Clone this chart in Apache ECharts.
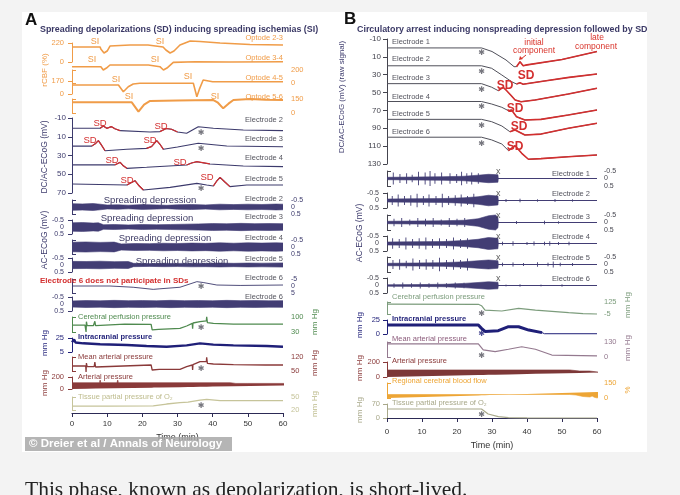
<!DOCTYPE html>
<html><head><meta charset="utf-8">
<script src="https://cdn.jsdelivr.net/npm/echarts@6/dist/echarts.min.js"></script>
<style>html,body{margin:0;padding:0;background:#f3f3f3;}#c{width:680px;height:495px;}</style>
</head><body><div id="c"></div>
<script>
// ---------------- DATA (time in min, values in axis units) ----------------
const timeTicks = [0, 10, 20, 30, 40, 50, 60];
// Panel A - rCBF (%)
const optode23 = [[0,174],[8,174],[8.2,150],[9.1,104],[10,127],[10.8,185],[16.5,197],[21.6,197],[21.8,174],[25.9,174],[26.7,139],[27.9,104],[29,127],[30.7,197],[33.6,243],[36.4,237],[42.1,220],[50.6,203],[60,197]];
const optode34 = [[0,251],[8.2,251],[8.9,200],[9.8,230],[10.8,277],[21.7,277],[21.9,251],[25,251],[26,200],[27,230],[28.8,318],[35,328],[45,323],[60,328]];
const optode45 = [[0,118],[13.2,118],[14.6,30],[16,95],[17.4,130],[19.3,140],[34.5,140],[35.5,-35],[36.2,60],[37.3,183],[40,161],[60,161]];
const optode56 = [[0,114],[17,114],[18.9,14],[20.5,90],[22.2,129],[30,134],[40.2,139],[41.5,110],[43,50],[44.5,100],[45.9,139],[50.6,150],[55,142],[60,139]];
// Panel A - DC/AC-ECoG (mV)
const dcA2 = [[0,1],[8,1],[8.9,-1.5],[9.9,1],[11.2,-0.8],[12.2,1.5],[13.7,3.5],[22.2,5],[25,4.5],[26.8,1.2],[28.3,2],[30,5],[32.6,6.3],[35.9,-0.7],[40.2,1],[48.7,2.8],[60,3.5]];
const dcA3 = [[0,20],[5.6,20],[6.6,17.5],[7.5,14.2],[8.4,19],[9.4,24.9],[15.6,23.4],[21.2,22.4],[22.6,20.5],[24.1,14.2],[25,18],[26,23.4],[30,21],[35.9,17],[44,19.9],[60,20.6]];
const dcA4 = [[0,40],[12.2,40],[13,38.5],[13.7,37.3],[14.6,41],[15.6,43.7],[21.2,42.6],[32.6,40.1],[34,38],[35.5,36.6],[39.2,39],[48.7,41.2],[60,41.9]];
const dcA5 = [[0,60.4],[15.6,61.5],[16.8,59],[17.9,56.9],[19,62],[20.3,66.8],[27.9,64],[35.5,59.7],[38.3,61.5],[40.2,62.5],[41.2,57],[42.1,53.3],[43.4,58],[44.9,63.2],[49.7,61.5],[60,61.5]];
const sdWinA2 = [[8,13.7],[25,30]];
const sdWinA3 = [[5.6,9.4],[21.2,26]];
const sdWinA4 = [[12.2,15.6],[32.6,39.2]];
const sdWinA5 = [[15.6,20.3],[40.2,44.9]];
const starsDcA = [[36.7,6.3],[36.7,23],[36.7,65.7]];
// Panel A - AC-ECoG half amplitude (mV)
const acA2 = [[0,0.24],[3,0.22],[6,0.25],[8,0.2],[10,0.14],[13,0.16],[16,0.13],[20,0.17],[24,0.15],[27,0.12],[30,0.16],[34,0.18],[38,0.15],[42,0.2],[46,0.17],[50,0.2],[54,0.18],[58,0.21],[60,0.2]];
const acA3 = [[0,0.3],[3,0.32],[6,0.28],[7.5,0.3],[9,0.16],[12,0.18],[16,0.15],[20,0.18],[24,0.16],[28,0.18],[32,0.2],[36,0.22],[40,0.25],[44,0.23],[48,0.26],[52,0.24],[56,0.25],[60,0.24]];
const acA4 = [[0,0.34],[4,0.36],[8,0.33],[12,0.35],[14,0.22],[18,0.25],[22,0.24],[26,0.27],[30,0.25],[34,0.28],[38,0.26],[42,0.3],[46,0.27],[50,0.3],[54,0.28],[58,0.3],[60,0.29]];
const acA5 = [[0,0.26],[4,0.25],[8,0.27],[12,0.24],[16,0.25],[17.5,0.12],[22,0.1],[26,0.12],[30,0.11],[34,0.13],[38,0.12],[42,0.14],[46,0.12],[50,0.14],[54,0.13],[60,0.15]];
const acA6 = [[0,0.22],[4,0.25],[8,0.23],[12,0.26],[16,0.24],[20,0.25],[24,0.23],[28,0.26],[32,0.24],[36,0.25],[40,0.23],[44,0.26],[48,0.24],[52,0.25],[56,0.23],[60,0.24]];
const dcA6 = [[0,0],[10.8,0],[17.4,0.9],[23.1,2.4],[25,2],[30.7,0.9],[35.5,-3.1],[37.3,-2.5],[41.2,-0.7],[47.8,-0.4],[60,-0.7]];
const starDcA6 = [[36.7,0.7]];
// Panel A - pressures (mm Hg)
const cppA = [[0,62],[3.7,62],[3.9,62],[4.0,30],[4.1,78],[4.3,60],[6.1,60],[6.3,55],[6.5,80],[6.7,60],[7,67],[15,67],[22.5,66],[22.8,40],[23.3,45],[24.6,42],[24.8,48],[30.7,47],[32.6,58],[34.2,70],[34.3,45],[34.4,72],[36.4,78],[38.2,82],[38.3,101],[38.5,74],[40.2,70],[45.9,67],[46,64],[46.1,67],[60,67]];
const icpA = [[0,19],[0.6,23],[1,18.5],[3.2,17.4],[8,16],[15.6,15],[21.2,13.6],[26.9,12.6],[32.6,14.5],[36.4,17.4],[40.2,15.5],[45.9,14.5],[55.4,13.6],[60,12.6]];
const mapA = [[0,75],[3.9,75],[4.0,45],[4.1,90],[4.3,72],[6.3,72],[6.5,95],[6.7,70],[7,80],[22.5,80],[22.8,55],[23.3,58],[24.8,58],[30.7,58],[32.6,72],[34.2,80],[34.3,55],[34.4,82],[36.4,97],[38.2,97],[38.3,118],[38.5,88],[40.2,85],[45.9,82],[46,75],[46.1,82],[55,80],[55.1,74],[55.2,80],[60,80]];
const apA = [[0,28,133],[3.9,28,133],[4.0,0,150],[4.1,28,133],[6.4,28,133],[6.5,0,150],[6.6,28,133],[22.5,28,133],[22.7,5,120],[23.3,12,105],[24.6,12,105],[24.8,0,105],[25,12,105],[30.7,12,105],[33,18,130],[34.2,20,140],[34.3,0,140],[34.4,20,140],[36.4,22,155],[38.3,22,170],[40,22,162],[46,22,160],[60,22,158]];
const po2A = [[0,29],[10,29],[23.1,29.5],[26.9,33.8],[30.7,37],[33,38],[36.4,43],[38.3,44.6],[42.1,41.5],[50,41.5],[60,41.5]];
const starCppA = [[36.7,47]], starMapA = [[36.7,58.5]], starPo2A = [[36.7,29.2]];
// Panel B - DC (raw)
const dcB1 = [[0,0],[27,0],[30,4],[34,13.5],[36.3,21],[37,21],[38,15.4],[38.9,20],[40,19],[50,13],[60,4]];
const dcB2 = [[0,20],[27,20],[29.9,22.8],[32.8,30.3],[35.6,37.8],[37,40.4],[38,39],[38.9,40.6],[45,37],[52,33],[60,29.2]];
const dcB3 = [[0,40],[27,40],[29.9,44],[31.8,47.9],[33.2,44.1],[34.2,47.9],[35.4,53],[36.6,58.3],[38.3,60.2],[42.3,58.3],[51.8,51.6],[60,45.2]];
const dcB4 = [[0,60],[27,60],[29.9,62.8],[32.8,66.5],[34.7,70.3],[35.6,69.5],[37,77],[39.4,80.7],[44,80],[51.8,75.1],[60,69.5]];
const dcB5 = [[0,80],[27,80],[29.9,82.6],[32.8,87.4],[35.1,93.8],[36.6,91.9],[39.4,97.5],[44,96.5],[51.8,90],[60,84.4]];
const dcB6 = [[0,100],[27,100],[29.9,103],[32.8,107.6],[34.7,115],[36.6,109.5],[38.5,118],[40.4,124.7],[44,124],[51.8,121.8],[60,119.9]];
const sdStartB = [37, 37, 31.8, 34.7, 35.1, 34.7];
const starsDcB = [[27,5.7],[27,27],[27,47],[27,66],[27,87.4],[27,107.6]];
// Panel B - AC envelope half amplitude and spikes
const acB1 = [[0,0.08],[8,0.1],[16,0.12],[22,0.15],[26,0.22],[29,0.28],[31.7,0.25],[31.8,0],[60,0]];
const acB2 = [[0,0.1],[8,0.12],[16,0.13],[22,0.18],[26,0.25],[29,0.35],[31.7,0.3],[31.8,0],[60,0]];
const acB3 = [[0,0.08],[8,0.1],[16,0.12],[22,0.15],[26,0.25],[29,0.45],[31,0.5],[31.7,0.35],[31.8,0],[60,0]];
const acB4 = [[0,0.1],[8,0.12],[16,0.13],[22,0.2],[26,0.28],[29,0.4],[31.7,0.35],[31.8,0],[60,0]];
const acB5 = [[0,0.08],[8,0.1],[16,0.12],[22,0.18],[26,0.25],[29,0.3],[31.7,0.25],[31.8,0],[60,0]];
const acB6 = [[0,0.05],[8,0.06],[16,0.08],[22,0.14],[26,0.2],[29,0.25],[31.7,0.22],[31.8,0],[60,0]];
const spkB1 = [[1.8,0.4],[3.7,0.3],[5.6,0.35],[7.2,0.25],[9,0.45],[10.9,0.4],[12.3,0.5],[13.7,0.35],[15.6,0.4],[18,0.35],[19.9,0.3],[21.3,0.45],[22.8,0.35],[24.2,0.4],[26.1,0.35]];
const spkB2 = [[1.5,0.3],[3.2,0.4],[5,0.3],[6.8,0.35],[8.6,0.45],[10.4,0.3],[12,0.4],[14,0.3],[15.8,0.45],[17.6,0.3],[19.5,0.35],[21.2,0.4],[23,0.3],[24.8,0.45],[34,0.1],[38,0.12],[43,0.08],[48,0.1],[53,0.08]];
const spkB3 = [[2,0.25],[4.2,0.3],[6.5,0.2],[8.8,0.3],[11,0.25],[13.2,0.3],[15.5,0.2],[17.8,0.3],[20,0.25],[22.2,0.3],[37,0.1],[45,0.12],[49,0.08]];
const spkB4 = [[1.6,0.35],[3.5,0.3],[5.4,0.4],[7.3,0.3],[9.2,0.35],[11.1,0.4],[13,0.3],[15,0.35],[17,0.3],[19,0.4],[21,0.3],[23,0.35],[33,0.12],[36,0.15],[40,0.1],[42,0.14],[45,0.12],[46.5,0.15],[49,0.1],[52,0.12]];
const spkB5 = [[1.7,0.3],[3.6,0.35],[5.5,0.25],[7.4,0.4],[9.3,0.3],[11.2,0.35],[13.1,0.3],[15,0.45],[17,0.3],[19,0.35],[21,0.3],[23,0.4],[33,0.12],[36,0.14],[39,0.1],[43,0.15],[46,0.12],[47.5,0.2],[49.5,0.12],[53,0.1]];
const spkB6 = [[2,0.15],[4.5,0.2],[7,0.15],[9.5,0.2],[12,0.15],[14.5,0.2],[17,0.15],[19.5,0.2],[22,0.18],[34,0.06],[38,0.08],[44,0.06],[50,0.08]];
const xMarkB = [[31.8,-0.45]];
// Panel B - physiology
const cppB = [[0,103],[26.1,100],[27,85],[28,38],[32.8,27.5],[37.6,56.7],[42.4,38],[51.9,9],[56,0],[60,-5]];
const icpB = [[0,16],[26.1,16],[27,10],[28,4.5],[31.8,6],[34.7,13],[37.6,13],[40.5,7],[44.3,2.5],[45,0.5],[60,0.5]];
const icpBThickEnd = 44.3;
const mapB = [[0,113],[26.1,113],[27.5,61],[30.9,46],[34.7,67],[38.5,89],[42.4,67],[47.1,17],[60,9]];
const apB = [[0,53,147],[26.1,53,147],[27.5,30,110],[28.9,13,93],[30.9,13,71],[34.7,27,93],[37.6,27,93],[42.4,13,58],[47.1,6,27],[55,2,8],[60,0,2]];
const cbfB = [[0,90,125],[26.1,90,125],[27,80,110],[28,40,55],[29,15,25],[29.3,20,40],[29.6,0,8],[29.9,0,2],[60,0,1]];
const po2B = [[0,45],[27,45],[28.9,20],[31.8,6.7],[34.7,1.7],[40,0.5],[60,0]];
const starCppB = [[27,-5]], starIcpB = [[27,0]], starMapB = [[27,8.7]], starPo2B = [[27,15]];

// ---------------- BUILD ----------------
const FONT = '"Liberation Sans", Arial, sans-serif';
const C = {navy:'#3c3a6c', red:'#d32f2f', orange:'#f09c48', gray:'#55555f', green:'#4f8a4f', icp:'#1f1f78',
  maroon:'#8a3a3a', olive:'#c6c49a', greenB:'#7c9c7c', mauve:'#94798f', oliveB:'#a8a88a', orangeB:'#eda535', dcB:'#50505a', ac:'#423d74'};
const XA = {left:72, width:211}, XB = {left:387, width:210};
const grids = [], xAxes = [], yAxes = [], series = [];

function panel(p) {
  const i = grids.length, X = p.x === 'A' ? XA : XB;
  grids.push({left:X.left, width:X.width, top:p.top, height:p.height});
  xAxes.push({gridIndex:i, type:'value', min:0, max:60, show:false});
  yAxes.push({gridIndex:i, type:'value', min:p.min, max:p.max, inverse:!!p.inverse,
    position:p.side, offset:p.offset || 0,
    axisLine:{show:true, lineStyle:{color:p.color, width:1}},
    axisTick:{show:true, length:4, customValues:p.ticks, lineStyle:{color:p.color, width:1}},
    axisLabel:{show:true, customValues:p.labels || p.ticks, fontSize:p.fs || 7.5, color:p.color, margin:6, fontFamily:FONT},
    splitLine:{show:false}});
  return i;
}
function line(i, data, color, width) {
  series.push({type:'line', xAxisIndex:i, yAxisIndex:i, data, symbol:'none', showSymbol:false,
    lineStyle:{color, width}, clip:false, silent:true, z:3});
}
// band between lo and hi (all positive values): stacked areas
function band(i, env, color) {
  const stack = 'st' + series.length;
  series.push({type:'line', xAxisIndex:i, yAxisIndex:i, stack, data:env.map(d => [d[0], d[1]]),
    symbol:'none', lineStyle:{width:0, opacity:0}, clip:false, silent:true, z:2});
  series.push({type:'line', xAxisIndex:i, yAxisIndex:i, stack, data:env.map(d => [d[0], d[2] - d[1]]),
    symbol:'none', lineStyle:{width:0.6, color}, areaStyle:{color, opacity:1}, clip:false, silent:true, z:2});
}
// symmetric band +-amp around zero: two areas filled to origin 0
function symBand(i, amp, color) {
  [1, -1].forEach(s => {
    series.push({type:'line', xAxisIndex:i, yAxisIndex:i, data:amp.map(d => [d[0], s * d[1]]),
      symbol:'none', lineStyle:{width:0.6, color}, areaStyle:{color, opacity:1, origin:0}, clip:false, silent:true, z:2});
  });
}
function spikes(i, sp, color) {
  const d = [];
  sp.forEach(s => { d.push([s[0], -s[1]], [s[0], s[1]], [s[0], '-']); });
  series.push({type:'line', xAxisIndex:i, yAxisIndex:i, data:d, symbol:'none', connectNulls:false,
    lineStyle:{color, width:0.9}, clip:false, silent:true, z:3});
}
function marks(i, pts, text, color, size, font) {
  series.push({type:'scatter', xAxisIndex:i, yAxisIndex:i, data:pts, symbolSize:1,
    itemStyle:{color:'rgba(0,0,0,0)'}, clip:false, silent:true, z:5,
    label:{show:true, formatter:text, position:'inside', color, fontSize:size, fontFamily:font || FONT}});
}
function win(data, w) { return data.filter(d => d[0] >= w[0] && d[0] <= w[1]); }
const STAR = '\u2731';
const SF = '"DejaVu Sans", sans-serif';

// ---- Panel A ----
let g;
g = panel({x:'A', top:43, height:19, min:0, max:220, side:'left', offset:2, ticks:[0,220], color:C.orange});
line(g, optode23, C.orange, 1.6);
g = panel({x:'A', top:70, height:13, min:0, max:200, side:'right', offset:2, ticks:[0,200], color:C.orange});
line(g, optode34, C.orange, 1.6);
g = panel({x:'A', top:81, height:13, min:0, max:170, side:'left', offset:2, ticks:[0,170], color:C.orange});
line(g, optode45, C.orange, 1.6);
g = panel({x:'A', top:99, height:14, min:0, max:150, side:'right', offset:2, ticks:[0,150], color:C.orange});
line(g, optode56, C.orange, 2);

g = panel({x:'A', top:118, height:75, min:-10, max:70, inverse:true, side:'left', offset:0, ticks:[-10,10,30,50,70], color:C.navy, fs:8});
[[dcA2, sdWinA2],[dcA3, sdWinA3],[dcA4, sdWinA4],[dcA5, sdWinA5]].forEach(([d, ws]) => {
  line(g, d, C.navy, 1.1);
  ws.forEach(w => line(g, win(d, w), C.red, 1.2));
});
marks(g, starsDcA, STAR, C.gray, 8, SF);

const acLabels = [-0.5, 0, 0.5], acTicks = [-0.5, 0.5];
const acA = [[200,'right',acA2],[220,'left',acA3],[240,'right',acA4],[258,'left',acA5]];
acA.forEach(([top, side, amp]) => {
  const k = panel({x:'A', top, height:14, min:-0.5, max:0.5, inverse:true, side, offset:2, ticks:acTicks, labels:acLabels, color:C.navy, fs:7});
  symBand(k, amp, C.ac);
});
g = panel({x:'A', top:279, height:14, min:-5, max:5, inverse:true, side:'right', offset:2, ticks:[-5,5], labels:[-5,0,5], color:C.navy, fs:7});
line(g, dcA6, C.navy, 0.9);
marks(g, starDcA6, STAR, C.gray, 8, SF);
g = panel({x:'A', top:297, height:14, min:-0.5, max:0.5, inverse:true, side:'left', offset:2, ticks:acTicks, labels:acLabels, color:C.navy, fs:7});
symBand(g, acA6, C.ac);

g = panel({x:'A', top:317, height:15, min:30, max:100, side:'right', offset:2, ticks:[30,100], color:C.green});
line(g, cppA, C.green, 1.3);
marks(g, starCppA, STAR, C.gray, 8, SF);
g = panel({x:'A', top:338, height:14, min:5, max:25, side:'left', offset:2, ticks:[5,25], color:C.icp});
line(g, icpA, C.icp, 2.4);
g = panel({x:'A', top:357, height:14, min:50, max:120, side:'right', offset:2, ticks:[50,120], color:C.maroon});
line(g, mapA, C.maroon, 1.3);
marks(g, starMapA, STAR, C.gray, 8, SF);
g = panel({x:'A', top:377, height:12, min:0, max:200, side:'left', offset:2, ticks:[0,200], color:C.maroon});
band(g, apA, C.maroon);
g = panel({x:'A', top:397, height:13, min:20, max:50, side:'right', offset:2, ticks:[20,50], color:C.olive});
line(g, po2A, C.olive, 1.3);
marks(g, starPo2A, STAR, C.gray, 8, SF);
const timeAxisA = g;

// ---- Panel B ----
g = panel({x:'B', top:39, height:125, min:-10, max:130, inverse:true, side:'left', offset:0,
  ticks:[-10,10,30,50,70,90,110,130], color:'#44444e', fs:8});
[dcB1, dcB2, dcB3, dcB4, dcB5, dcB6].forEach((d, k) => {
  line(g, d, C.dcB, 1);
  line(g, win(d, [sdStartB[k], 60]), C.red, 1.6);
});
marks(g, starsDcB, STAR, C.gray, 8, SF);

const acB = [[171,'right',acB1,spkB1],[193,'left',acB2,spkB2],[215,'right',acB3,spkB3],[236,'left',acB4,spkB4],[257,'right',acB5,spkB5],[278,'left',acB6,spkB6]];
acB.forEach(([top, side, amp, sp]) => {
  const k = panel({x:'B', top, height:15, min:-0.5, max:0.5, inverse:true, side, offset:side === 'left' ? 2 : 1,
    ticks:acTicks, labels:acLabels, color:'#44444e', fs:7});
  symBand(k, amp, C.ac);
  line(k, [[0,0],[60,0]], C.ac, 1);
  spikes(k, sp, C.ac);
  marks(k, xMarkB, 'x', '#333', 9);
});

g = panel({x:'B', top:302, height:12, min:-5, max:125, side:'right', offset:1, ticks:[-5,125], color:C.greenB});
line(g, cppB, C.greenB, 1.2);
marks(g, starCppB, STAR, C.gray, 8, SF);
g = panel({x:'B', top:320, height:14, min:0, max:25, side:'left', offset:1, ticks:[0,25], color:C.icp});
line(g, icpB, C.icp, 1);
line(g, win(icpB, [0, icpBThickEnd]), C.icp, 3);
marks(g, starIcpB, STAR, C.icp, 8, SF);
g = panel({x:'B', top:342, height:15, min:0, max:130, side:'right', offset:1, ticks:[0,130], color:C.mauve});
line(g, mapB, C.mauve, 1.2);
marks(g, starMapB, STAR, C.gray, 8, SF);
g = panel({x:'B', top:362, height:15, min:0, max:200, side:'left', offset:1, ticks:[0,200], color:C.maroon});
band(g, apB, '#7d3838');
g = panel({x:'B', top:383, height:15, min:0, max:150, side:'right', offset:1, ticks:[0,150], color:C.orangeB});
band(g, cbfB, C.orangeB);
g = panel({x:'B', top:404, height:14, min:0, max:70, side:'left', offset:1, ticks:[0,70], color:C.oliveB});
line(g, po2B, C.oliveB, 1.2);
marks(g, starPo2B, STAR, C.gray, 8, SF);
const timeAxisB = g;

function timeAxis(i) {
  Object.assign(xAxes[i], {show:true, position:'bottom', offset:3, interval:10,
    axisLine:{show:true, lineStyle:{color:'#2c2a55', width:1.2}},
    axisTick:{show:true, length:4, lineStyle:{color:'#2c2a55'}},
    axisLabel:{fontSize:8, color:'#333', margin:7, fontFamily:FONT, customValues:timeTicks},
    splitLine:{show:false},
    name:'Time (min)', nameLocation:'middle', nameGap:20, nameTextStyle:{fontSize:9, color:'#333', fontFamily:FONT}});
}
timeAxis(timeAxisA); timeAxis(timeAxisB);

// ---------------- TEXT ----------------
const els = [];
els.push({type:'rect', z:-10, shape:{x:22, y:12, width:625, height:440}, style:{fill:'#ffffff'}});
function T(x, y, text, o) {
  o = o || {};
  els.push({type:'text', x, y, z:50, rotation:o.rot || 0,
    style:{text, fontFamily:o.ff || FONT, fontSize:o.fs || 7.5, fontWeight:o.fw || 'normal', fill:o.c || C.gray,
      align:o.a || 'left', verticalAlign:'middle'}});
}
const V = Math.PI / 2;
// Panel A
T(25, 20, 'A', {fs:17, fw:'bold', c:'#111'});
T(40, 30, 'Spreading depolarizations (SD) inducing spreading ischemias (SI)', {fs:8.9, fw:'bold', c:'#3b3966'});
[[95,42],[160,42],[92,60],[155,60],[116,80],[188,77],[129,97],[215,97]].forEach(p => T(p[0], p[1], 'SI', {fs:9, c:C.orange, a:'center'}));
[['Optode 2-3',38],['Optode 3-4',58],['Optode 4-5',78],['Optode 5-6',97]].forEach(p => T(283, p[1], p[0], {c:C.orange, a:'right', fs:7.5}));
T(45, 70, 'rCBF (%)', {rot:V, a:'center', c:C.orange, fs:8});
T(45, 157, 'DC/AC-ECoG (mV)', {rot:V, a:'center', c:C.navy, fs:8.5});
T(45, 240, 'AC-ECoG (mV)', {rot:V, a:'center', c:C.navy, fs:8.5});
[[100,123],[161,126],[90,140],[150,140],[112,160],[180,162],[127,180],[207,177]].forEach(p => T(p[0], p[1], 'SD', {fs:9.5, c:C.red, a:'center'}));
[['Electrode 2',120],['Electrode 3',139],['Electrode 4',158],['Electrode 5',179],['Electrode 2',199],['Electrode 3',217],
 ['Electrode 4',238],['Electrode 5',259],['Electrode 6',278],['Electrode 6',297]].forEach(p => T(283, p[1], p[0], {a:'right'}));
[[150,200],[147,218],[165,238],[182,261]].forEach(p => T(p[0], p[1], 'Spreading depression', {fs:9.5, c:'#3d3a64', a:'center'}));
T(40, 281, 'Electrode 6 does not participate in SDs', {fs:8, fw:'bold', c:C.red});
T(78, 317, 'Cerebral perfusion pressure', {c:C.green});
T(78, 337, 'Intracranial pressure', {c:C.icp, fw:'bold'});
T(78, 357, 'Mean arterial pressure', {c:C.maroon});
T(78, 377, 'Arterial pressure', {c:C.maroon});
T(78, 397, 'Tissue partial pressure of O\u2082', {c:'#bdbb8c'});
T(45, 343, 'mm Hg', {rot:V, a:'center', c:C.icp, fs:8});
T(45, 383, 'mm Hg', {rot:V, a:'center', c:C.maroon, fs:8});
T(315, 322, 'mm Hg', {rot:V, a:'center', c:C.green, fs:8});
T(315, 363, 'mm Hg', {rot:V, a:'center', c:C.maroon, fs:8});
T(315, 404, 'mm Hg', {rot:V, a:'center', c:'#bdbb8c', fs:8});
// Panel B
T(344, 19, 'B', {fs:17, fw:'bold', c:'#111'});
T(357, 30, 'Circulatory arrest inducing nonspreading depression followed by SD', {fs:8.9, fw:'bold', c:'#3b3966'});
T(342, 97, 'DC/AC-ECoG (mV) (raw signal)', {rot:V, a:'center', c:C.navy, fs:8});
[['Electrode 1',42],['Electrode 2',59],['Electrode 3',78],['Electrode 4',97],['Electrode 5',114],['Electrode 6',132]].forEach(p => T(392, p[1], p[0], {}));
[[526,76],[505,86],[515,109],[519,127],[515,147]].forEach(p => T(p[0], p[1], 'SD', {fs:12, fw:'bold', c:C.red, a:'center'}));
T(534, 43, 'initial', {fs:8.5, c:'#d9342b', a:'center'});
T(534, 51, 'component', {fs:8.5, c:'#d9342b', a:'center'});
T(597, 38, 'late', {fs:8.5, c:'#d9342b', a:'center'});
T(596, 47, 'component', {fs:8.5, c:'#d9342b', a:'center'});
els.push({type:'line', z:50, shape:{x1:526, y1:55, x2:521, y2:59}, style:{stroke:'#d9342b', lineWidth:1}});
els.push({type:'polygon', z:50, shape:{points:[[519,60],[520,56],[523,59]]}, style:{fill:'#d9342b'}});
T(360, 233, 'AC-ECoG (mV)', {rot:V, a:'center', c:C.navy, fs:8.5});
[['Electrode 1',174],['Electrode 2',194],['Electrode 3',217],['Electrode 4',237],['Electrode 5',258],['Electrode 6',279]].forEach(p => T(590, p[1], p[0], {a:'right'}));
T(392, 297, 'Cerebral perfusion pressure', {c:C.greenB});
T(392, 319, 'Intracranial pressure', {c:C.icp, fw:'bold'});
T(392, 339, 'Mean arterial pressure', {c:'#8b5a7a'});
T(392, 361, 'Arterial pressure', {c:C.maroon});
T(392, 381, 'Regional cerebral blood flow', {c:C.orangeB});
T(392, 403, 'Tissue partial pressure of O\u2082', {c:C.oliveB});
T(360, 325, 'mm Hg', {rot:V, a:'center', c:C.icp, fs:8});
T(360, 368, 'mm Hg', {rot:V, a:'center', c:C.maroon, fs:8});
T(360, 410, 'mm Hg', {rot:V, a:'center', c:C.oliveB, fs:8});
T(628, 305, 'mm Hg', {rot:V, a:'center', c:C.greenB, fs:8});
T(628, 348, 'mm Hg', {rot:V, a:'center', c:C.mauve, fs:8});
T(628, 390, '%', {rot:V, a:'center', c:C.orangeB, fs:8});
// copyright + caption
els.push({type:'rect', z:60, shape:{x:25, y:437, width:207, height:14}, style:{fill:'rgba(165,165,165,0.82)'}});
T(29, 444, '\u00A9 Dreier et al / Annals of Neurology', {fs:11.5, fw:'bold', c:'#ffffff'});
els[els.length - 1].z = 61;
T(25, 490, 'This phase, known as depolarization, is short-lived.', {fs:21.5, c:'#222', ff:'"Liberation Serif", serif'});

const chart = echarts.init(document.getElementById('c'));
chart.setOption({animation:false, backgroundColor:'#f3f3f3', grid:grids, xAxis:xAxes, yAxis:yAxes, series, graphic:{elements:els}});
</script></body></html>
